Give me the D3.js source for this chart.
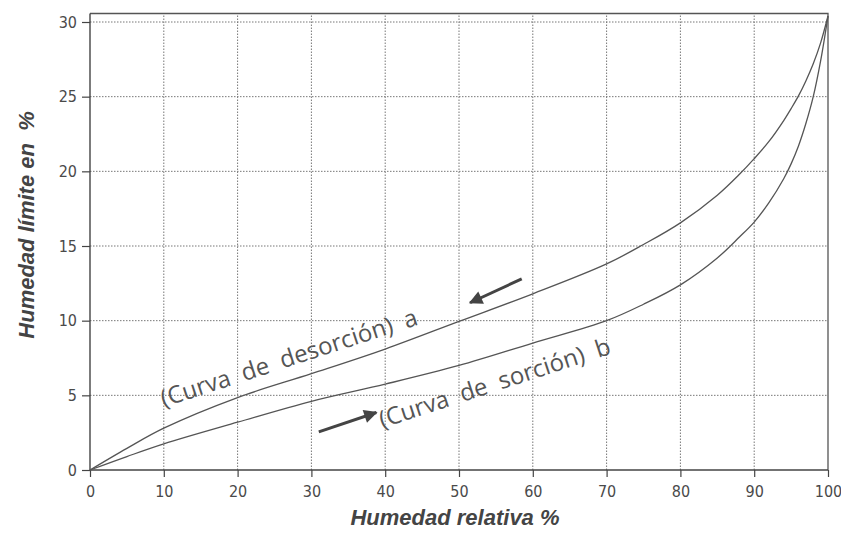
<!DOCTYPE html>
<html>
<head>
<meta charset="utf-8">
<script src="https://cdn.jsdelivr.net/npm/d3@7"></script>
<style>
  body { margin: 0; background: #fff; }
  .tick text { font-family: "DejaVu Sans Condensed", "Open Sans", sans-serif; font-size: 16px; font-weight: 300; fill: #4a4a4a; }
  .axis-title { font-family: "Liberation Sans", Arial, sans-serif; font-weight: bold; font-style: italic; font-size: 22px; fill: #444; }
  .note { font-family: "Open Sans", sans-serif; font-weight: 400; font-size: 24px; fill: #555; }
</style>
</head>
<body>
<div id="vis"></div>
<script>
const width = 841, height = 533;

// relative humidity (%)
const humedadRelativa = [0, 5, 10, 20, 30, 40, 50, 60, 70, 75, 80, 85, 88, 90, 92, 94, 95, 96, 97, 98, 99, 100];
// curve a: desorption
const desorcion = [0, 1.45, 2.8, 4.85, 6.45, 8.1, 9.95, 11.8, 13.8, 15.1, 16.55, 18.4, 19.8, 20.85, 22.0, 23.4, 24.2, 25.05, 26.05, 27.2, 28.6, 30.4];
// curve b: sorption
const sorcion = [0, 0.9, 1.75, 3.2, 4.6, 5.75, 7.0, 8.5, 10.0, 11.1, 12.4, 14.2, 15.6, 16.6, 17.9, 19.5, 20.5, 21.7, 23.2, 25.0, 27.4, 30.4];

const xTicks = [0, 10, 20, 30, 40, 50, 60, 70, 80, 90, 100];
const yTicks = [0, 5, 10, 15, 20, 25, 30];

const svg = d3.select('#vis')
    .append('svg')
    .attr('width', width)
    .attr('height', height);

const x = d3.scaleLinear().domain([0, 100]).range([90, 828]);
const y = d3.scaleLinear().domain([0, 30]).range([470, 22]);
const yTop = y(30.57);

// dotted grid
svg.append('g').selectAll('line.vg')
    .data(xTicks.filter(d => d > 0 && d < 100))
    .join('line')
    .attr('x1', d => x(d)).attr('x2', d => x(d))
    .attr('y1', y(0)).attr('y2', yTop)
    .attr('stroke', '#777').attr('stroke-width', 1)
    .attr('stroke-dasharray', '1.5,1.5');

svg.append('g').selectAll('line.hg')
    .data(yTicks.filter(d => d > 0))
    .join('line')
    .attr('x1', x(0)).attr('x2', x(100))
    .attr('y1', d => y(d)).attr('y2', d => y(d))
    .attr('stroke', '#777').attr('stroke-width', 1)
    .attr('stroke-dasharray', '1.5,1.5');

// frame top + right
svg.append('path')
    .attr('d', `M${x(0)},${yTop}H${x(100)}V${y(0)}`)
    .attr('fill', 'none').attr('stroke', '#555').attr('stroke-width', 1.3);

// axes
const xAxis = svg.append('g')
    .attr('transform', `translate(0,${y(0)})`)
    .call(d3.axisBottom(x).tickValues(xTicks).tickSize(7).tickPadding(6));
const yAxis = svg.append('g')
    .attr('transform', `translate(${x(0)},0)`)
    .call(d3.axisLeft(y).tickValues(yTicks).tickSize(8).tickPadding(5));

xAxis.select('.domain').attr('d', `M${x(0)},0H${x(100)}`);
yAxis.select('.domain').attr('d', `M0,${y(0)}V${yTop}`);
[xAxis, yAxis].forEach(a => {
    a.selectAll('.domain').attr('stroke', '#444').attr('stroke-width', 1.4);
    a.selectAll('.tick line').attr('stroke', '#444').attr('stroke-width', 1.2);
    a.selectAll('.tick text').attr('fill', '#4a4a4a');
});
xAxis.selectAll('.tick text').attr('dy', '0.9em');

// curves
const line = d3.line()
    .x((d, i) => x(humedadRelativa[i]))
    .y(d => y(d))
    .curve(d3.curveCatmullRom.alpha(0.5));

[desorcion, sorcion].forEach(series => {
    svg.append('path')
        .datum(series)
        .attr('d', line)
        .attr('fill', 'none')
        .attr('stroke', '#555')
        .attr('stroke-width', 1.3);
});

// curve notes
svg.append('text')
    .attr('class', 'note')
    .attr('transform', `translate(${x(10)},${y(4.2)}) rotate(-18)`)
    .attr('xml:space', 'preserve')
    .text('(Curva  de  desorción)  a');

svg.append('text')
    .attr('class', 'note')
    .attr('transform', `translate(${x(39.6)},${y(2.8)}) rotate(-18)`)
    .attr('xml:space', 'preserve')
    .text('(Curva  de  sorción)  b');

// arrows
const defs = svg.append('defs');
defs.append('marker')
    .attr('id', 'head')
    .attr('viewBox', '0 0 10 10')
    .attr('refX', 9).attr('refY', 5)
    .attr('markerWidth', 5).attr('markerHeight', 4.5)
    .attr('orient', 'auto')
    .append('path').attr('d', 'M0,0L10,5L0,10Z').attr('fill', '#444');

const arrows = [
    {from: [58.5, 12.8], to: [51.5, 11.2]},
    {from: [31, 2.55], to: [38.8, 3.85]}
];
svg.selectAll('line.arrow')
    .data(arrows)
    .join('line')
    .attr('x1', d => x(d.from[0])).attr('y1', d => y(d.from[1]))
    .attr('x2', d => x(d.to[0])).attr('y2', d => y(d.to[1]))
    .attr('stroke', '#444').attr('stroke-width', 3)
    .attr('marker-end', 'url(#head)');

// axis titles
svg.append('text')
    .attr('class', 'axis-title')
    .attr('x', 455).attr('y', 525)
    .attr('text-anchor', 'middle')
    .text('Humedad relativa %');

svg.append('text')
    .attr('class', 'axis-title')
    .attr('transform', 'translate(34,225) rotate(-90)')
    .attr('text-anchor', 'middle')
    .attr('xml:space', 'preserve')
    .text('Humedad límite en  %');
</script>
</body>
</html>
